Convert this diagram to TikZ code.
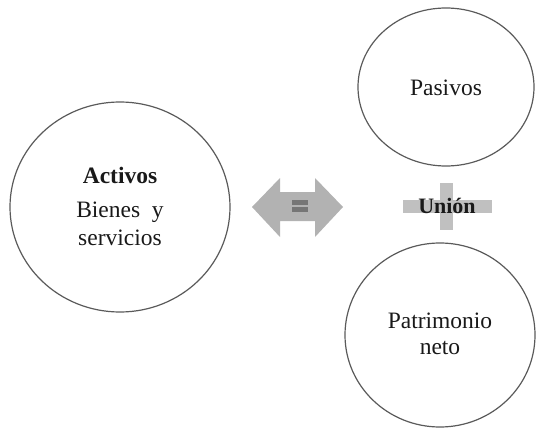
\documentclass[tikz,border=0pt]{standalone}
\usepackage{fontspec}
\setmainfont{Liberation Serif}
\usetikzlibrary{shapes.geometric}
\definecolor{ringc}{RGB}{90,90,90}
\definecolor{arrowc}{RGB}{178,178,178}
\definecolor{eqc}{RGB}{118,118,118}
\definecolor{plusc}{RGB}{192,192,192}
\begin{document}
\begin{tikzpicture}[x=1pt,y=-1pt,
  ring/.style={draw=ringc,line width=1.2pt,ellipse,inner sep=0pt},
  lbl/.style={font=\fontsize{23.5}{26}\selectfont,text=black!90,align=center,inner sep=0pt},
  blbl/.style={font=\fontsize{23.5}{26}\selectfont\bfseries,text=black!90,inner sep=0pt}]
\useasboundingbox (0,0) rectangle (536,428);
% circles
\node[ring,minimum width=220pt,minimum height=210pt] (act) at (120,207) {};
\node[ring,minimum width=176pt,minimum height=158pt] (pas) at (446,87) {};
\node[ring,minimum width=190pt,minimum height=184pt] (pat) at (440,335) {};
% texts
\node[blbl] (tact) at (120,175) {Activos};
\node[lbl] (tbie) at (120,212) {Bienes\ \ y};
\node[lbl] (tser) at (120,238) {servicios};
\node[lbl] (tpas) at (446,88) {Pasivos};
\node[lbl] (tpat) at (440,321) {Patrimonio};
\node[lbl] (tnet) at (440,348) {neto};
% double arrow
\fill[arrowc] (252,207) -- (280,178) -- (280,192) -- (315,192) -- (315,178) -- (343,207)
  -- (315,237) -- (315,221) -- (280,221) -- (280,237) -- cycle;
\fill[eqc] (292,200) rectangle (308,204.5);
\fill[eqc] (292,207) rectangle (308,211.5);
% plus
\fill[plusc] (403,200) rectangle (492,213);
\fill[plusc] (440,183) rectangle (453,230);
\node[blbl,font=\fontsize{22}{24}\selectfont\bfseries] (tuni) at (447,206) {Unión};
\end{tikzpicture}
\end{document}
